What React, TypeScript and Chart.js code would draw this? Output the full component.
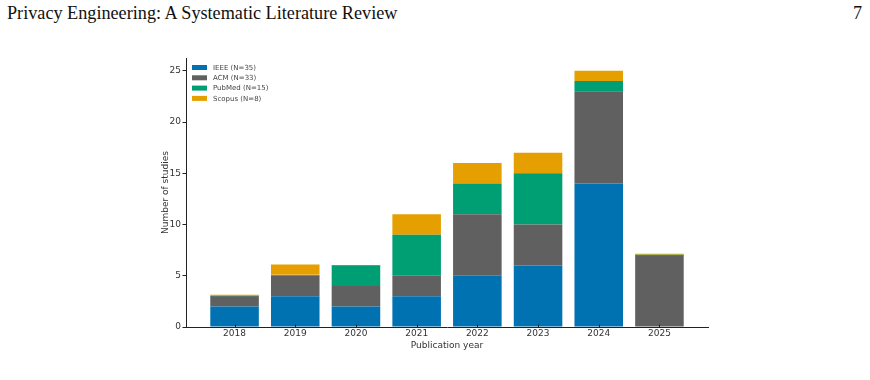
import React, { useEffect, useRef } from "react";
import { Chart, registerables } from "chart.js";

Chart.register(...registerables);

// Studies per publication year, split by source database
const years = ["2018", "2019", "2020", "2021", "2022", "2023", "2024", "2025"];
const ieee = [2, 3, 2, 3, 5, 6, 14, 0];
const acm = [1, 2, 2, 2, 6, 4, 9, 7];
const pubmed = [0, 0, 2, 4, 3, 5, 1, 0];
const scopus = [0, 1, 0, 2, 2, 2, 1, 0];

const seriesLabels = ["IEEE (N=35)", "ACM (N=33)", "PubMed (N=15)", "Scopus (N=8)"];
const seriesColors = ["#0072B2", "#606060", "#009E73", "#E69F00"];
const seriesValues = [ieee, acm, pubmed, scopus];
// upper segments keep a hairline even when empty
const seriesMinLength = [0, 0, 1, 1];

const yTicks = [0, 5, 10, 15, 20, 25];
const yMax = 26.25;

const FONT = "'DejaVu Sans', sans-serif";
const TEXT = "#333333";
const AXIS = "#222222";

// Legend drawn inside the top-left corner of the plot area,
// plus short inward tick marks on the year axis
const overlay = {
  id: "overlay",
  afterDraw(chart: any) {
    const { ctx, chartArea } = chart;
    const xScale = chart.scales.x;
    ctx.save();

    ctx.strokeStyle = AXIS;
    ctx.lineWidth = 1;
    ctx.beginPath();
    years.forEach((_, i) => {
      const px = Math.round(xScale.getPixelForValue(i)) + 0.5;
      ctx.moveTo(px, chartArea.bottom);
      ctx.lineTo(px, chartArea.bottom - 2.5);
    });
    ctx.stroke();

    const x0 = chartArea.left + 6;
    let y = chartArea.top + 9.5;
    ctx.font = `7px ${FONT}`;
    ctx.textBaseline = "middle";
    ctx.textAlign = "left";
    chart.data.datasets.forEach((ds: any) => {
      ctx.fillStyle = ds.backgroundColor;
      ctx.fillRect(x0, y - 2.5, 15, 5);
      ctx.fillStyle = "#444444";
      ctx.fillText(ds.label, x0 + 21, y + 0.5);
      y += 10.3;
    });
    ctx.restore();
  },
};

function StackedBars() {
  const ref = useRef<HTMLCanvasElement | null>(null);

  useEffect(() => {
    if (!ref.current) return;
    const chart = new Chart(ref.current, {
      type: "bar",
      data: {
        datasets: seriesLabels.map((label, k) => ({
          label,
          data: seriesValues[k].map((v, i) => ({ x: i, y: v })),
          backgroundColor: seriesColors[k],
          borderWidth: 0,
          minBarLength: seriesMinLength[k],
          barPercentage: 0.8,
          categoryPercentage: 1,
        })),
      },
      options: {
        responsive: false,
        animation: false,
        devicePixelRatio: 1,
        layout: { padding: { left: 146, right: 162, top: 58, bottom: 23 } },
        plugins: {
          legend: { display: false },
          tooltip: { enabled: false },
        },
        scales: {
          x: {
            type: "linear",
            min: -0.8,
            max: 7.8,
            stacked: true,
            offset: false,
            z: 1,
            grid: {
              display: true,
              offset: false,
              drawOnChartArea: false,
              drawTicks: true,
              tickLength: 3.5,
              color: "rgba(0,0,0,0)",
            },
            border: { display: true, color: AXIS, width: 1 },
            ticks: {
              autoSkip: false,
              maxRotation: 0,
              padding: -2,
              color: TEXT,
              font: { family: FONT, size: 9 },
              callback: (v: any) => years[v as number] ?? "",
            },
            afterBuildTicks: (s: any) => {
              s.ticks = years.map((_, i) => ({ value: i }));
            },
            title: {
              display: true,
              text: "Publication year",
              color: TEXT,
              font: { family: FONT, size: 9 },
              padding: { top: 0, bottom: 6 },
            },
            afterFit: (s: any) => {
              s.height = 30;
            },
          },
          y: {
            type: "linear",
            min: 0,
            max: yMax,
            stacked: true,
            grid: {
              display: true,
              drawOnChartArea: false,
              drawTicks: true,
              tickLength: 3.5,
              color: AXIS,
            },
            border: { display: true, color: AXIS, width: 1 },
            ticks: {
              padding: 1.5,
              color: TEXT,
              font: { family: FONT, size: 9 },
            },
            afterBuildTicks: (s: any) => {
              s.ticks = yTicks.map((v) => ({ value: v }));
            },
            title: {
              display: true,
              text: "Number of studies",
              color: TEXT,
              font: { family: FONT, size: 9 },
              padding: { top: 14.6, bottom: 0 },
            },
            afterFit: (s: any) => {
              s.width = 40;
            },
          },
        },
      } as any,
      plugins: [overlay],
    });
    return () => chart.destroy();
  }, []);

  return (
    <canvas
      ref={ref}
      width={870}
      height={380}
      style={{ position: "absolute", left: 0, top: 0, width: 870, height: 380 }}
    />
  );
}

export default function App() {
  return (
    <div
      style={{
        position: "fixed",
        left: 0,
        top: 0,
        width: 870,
        height: 380,
        background: "#ffffff",
        overflow: "hidden",
      }}
    >
      <div
        style={{
          position: "absolute",
          left: 7,
          top: 4,
          fontFamily: "'Liberation Serif', serif",
          fontSize: 18.2,
          lineHeight: "18px",
          color: "#111111",
          whiteSpace: "nowrap",
        }}
      >
        Privacy Engineering: A Systematic Literature Review
      </div>
      <div
        style={{
          position: "absolute",
          right: 8,
          top: 4,
          fontFamily: "'Liberation Serif', serif",
          fontSize: 18.2,
          lineHeight: "18px",
          color: "#111111",
        }}
      >
        7
      </div>
      <StackedBars />
    </div>
  );
}
